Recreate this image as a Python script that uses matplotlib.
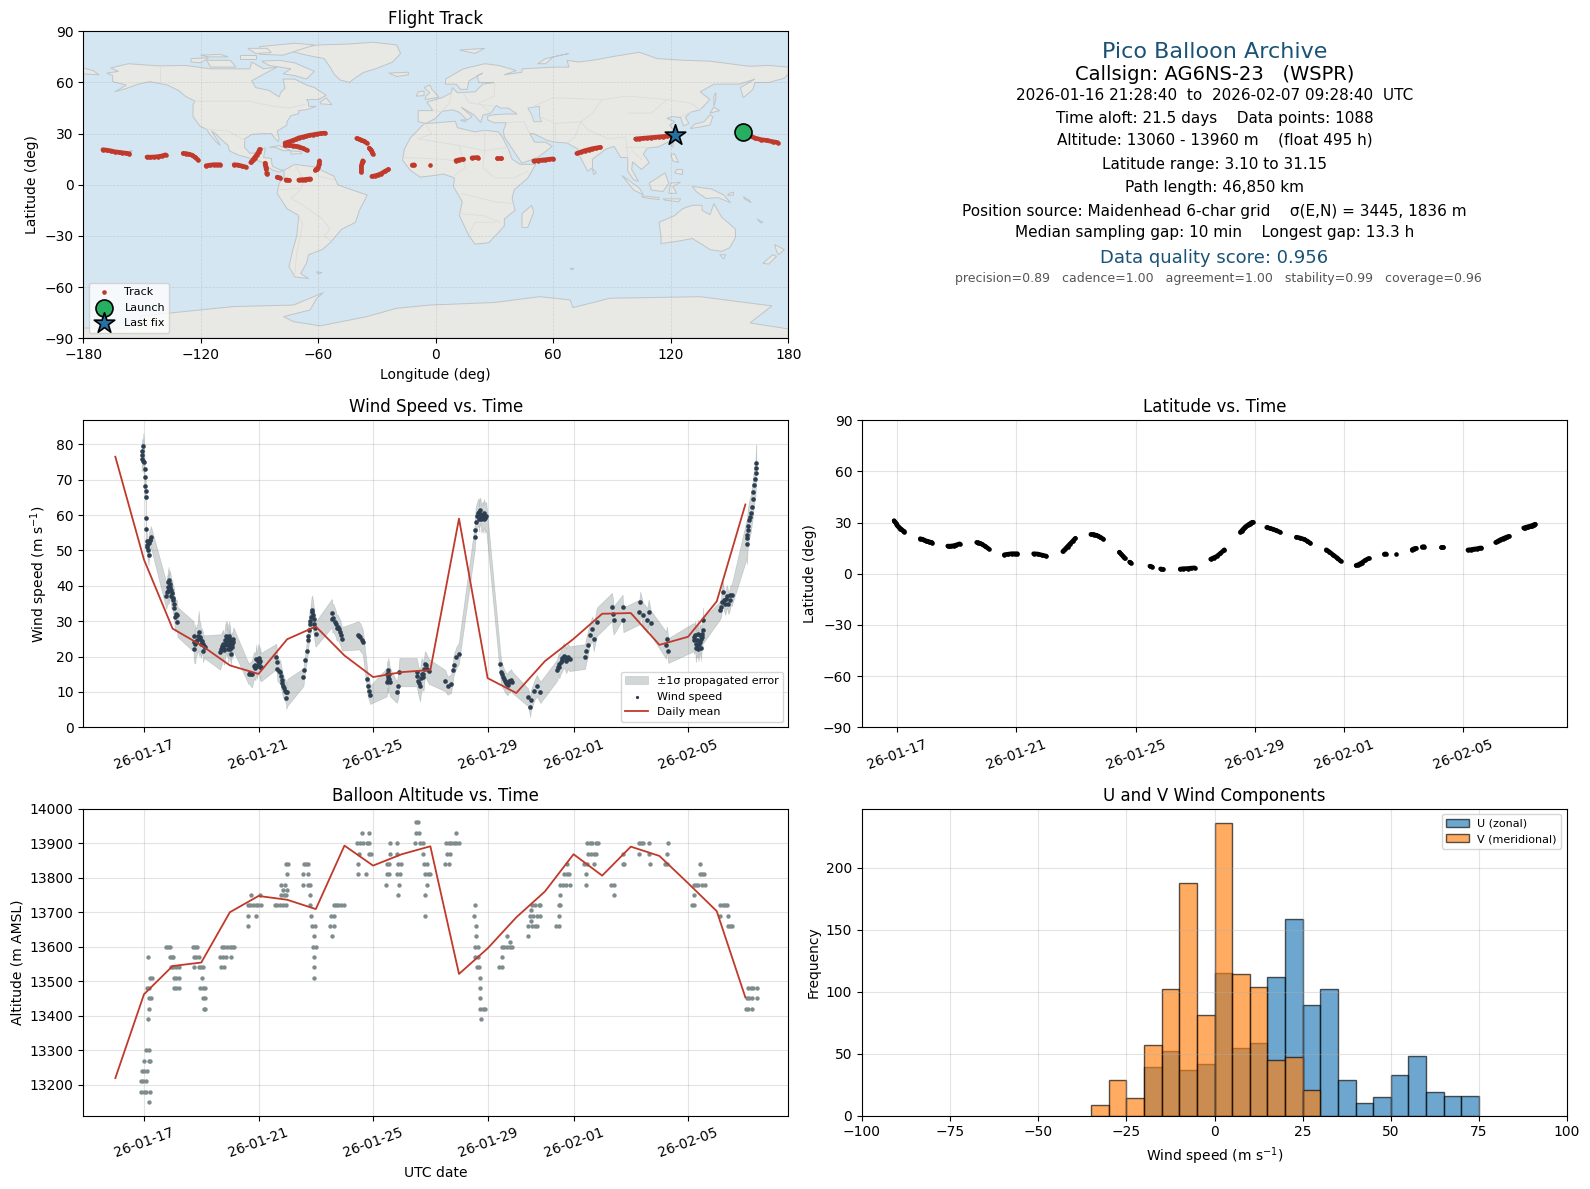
import datetime as dt
import numpy as np
import matplotlib
matplotlib.use("Agg")
import matplotlib.pyplot as plt
import matplotlib.dates as mdates

#------------------------------------------------------------------------------
# DATA - times are days of January 2026 (32 = Feb 1)
#------------------------------------------------------------------------------
date_ticks = ["2026-01-17", "2026-01-21", "2026-01-25", "2026-01-29", "2026-02-01", "2026-02-05"]

track_time = [16.90, 16.95, 17.00, 17.05, 17.10, 17.15, 17.20, 17.25,
    17.78, 17.84, 17.90, 17.96, 18.02, 18.08, 18.13, 18.18,
    18.70, 18.75, 18.82, 18.90, 18.98, 19.10,
    19.67, 19.72, 19.78, 19.84, 19.95, 20.07,
    20.60, 20.72, 20.85, 20.95, 21.04,
    21.58, 21.72, 21.86, 22.00,
    22.56, 22.64, 22.72, 22.80, 22.90, 22.98,
    23.50, 23.56, 23.62, 23.68, 23.74, 23.82, 23.92,
    24.46, 24.52, 24.58, 24.64, 24.80, 24.84,
    25.48, 25.56, 25.84, 25.92,
    26.50, 26.60, 26.75, 26.85, 26.98,
    27.52, 27.62, 27.72, 27.85, 27.98,
    28.52, 28.56, 28.60, 28.64, 28.68, 28.72, 28.76, 28.80, 28.84, 28.87, 28.90, 28.93,
    29.40, 29.50, 29.60, 29.70, 29.84,
    30.40, 30.52, 30.66, 30.76, 30.86,
    31.40, 31.50, 31.62, 31.75, 31.88,
    32.40, 32.46, 32.52, 32.60, 32.70, 32.82,
    33.35, 33.40, 33.73,
    34.28, 34.34, 34.40,
    34.62, 34.68,
    35.25, 35.33,
    36.15, 36.25, 36.35, 36.45, 36.52, 36.60,
    37.08, 37.16, 37.24, 37.32, 37.40, 37.46, 37.52,
    38.02, 38.06, 38.10, 38.14, 38.18, 38.22, 38.26, 38.30, 38.34, 38.38, 38.40]
track_lon = [157, 159, 161, 163, 166, 169, 172, 174.5,
    -170, -168, -166, -164, -162, -160, -158, -156.5,
    -147.5, -146, -144, -142, -140, -138,
    -129, -127.5, -126, -124.5, -123, -121.5,
    -117.3, -115.5, -113.5, -111.5, -110,
    -103, -101, -99, -97,
    -94.5, -93.5, -92.5, -91.5, -90.5, -90,
    -77, -75, -73, -71.5, -70, -68, -66,
    -87.2, -87, -86.8, -86.6, -86.4, -86.3,
    -81, -79.5, -76.5, -75,
    -70, -68.5, -67, -65.5, -64,
    -61.5, -60.8, -60, -59.6, -59.4,
    -77, -75, -73, -71.5, -70, -68, -66.5, -64.5, -62.5, -60.5, -58.5, -56.6,
    -40.4, -39, -38, -36.5, -35.3,
    -34, -33.5, -33, -32.6, -32.2,
    -37.3, -37.6, -38, -38, -38,
    -32.7, -31, -29.5, -27.8, -26, -24.2,
    -12, -11, -3,
    10.3, 12, 14,
    18.5, 21.5,
    31, 33.5,
    50, 52, 54, 56, 58, 60,
    72, 74, 76, 78, 80, 82, 84,
    102, 104, 106, 108, 110, 112, 114, 116, 118, 120, 122]
track_lat = [31.2, 30, 28.4, 27.4, 26.5, 26, 25.3, 24.8,
    20.6, 20.3, 19.9, 19.4, 19.1, 18.8, 18.5, 18.3,
    16.3, 16.2, 16.3, 16.5, 16.9, 17.6,
    18.4, 18.3, 17.9, 17.4, 16.2, 14.7,
    11.2, 11.5, 11.8, 11.8, 11.8,
    11.8, 11.6, 11.0, 10.4,
    13.1, 14.5, 16, 17.5, 19.3, 20.8,
    23.1, 23.1, 22.9, 22.6, 22.3, 21.4, 20.4,
    12.7, 11.5, 10.3, 9.0, 6.9, 6.3,
    4.5, 4.1, 2.9, 2.6,
    2.8, 3, 3.1, 3.3, 3.5,
    8.6, 9.4, 10.2, 12, 14.1,
    24.5, 25.2, 26, 26.7, 27.5, 28, 28.5, 29, 29.4, 29.8, 30.1, 30.3,
    27.2, 26.7, 26.2, 25.5, 24.5,
    21.5, 21, 20.2, 19.2, 18,
    14.1, 12.9, 11.2, 9.5, 7.5,
    4.9, 5.3, 5.8, 6.6, 7.9, 9,
    11.6, 11.7, 11.8,
    14.2, 14.7, 15.0,
    15.8, 16,
    15.9, 15.9,
    14, 14.2, 14.5, 14.7, 15, 15.2,
    18.4, 19.2, 20, 20.6, 21.2, 21.6, 22,
    26.9, 27.1, 27.3, 27.5, 27.7, 27.9, 28.1, 28.3, 28.6, 28.9, 29.1]

wind_time = [16.98, 16.94, 16.93, 16.92, 16.95, 17.01, 17.02, 17.02, 17.02, 17.06, 17.06, 17.06, 17.06, 17.09, 17.10, 17.14, 17.16, 17.20, 17.24,
    17.86, 17.90, 17.83, 17.94, 17.80, 17.99, 17.78, 18.03, 18.06, 18.15, 18.09, 18.17,
    18.73, 18.76, 18.79, 18.85, 18.91, 18.97, 18.99, 19.06, 19.06, 19.14,
    19.66, 19.72, 19.76, 19.80, 19.84, 19.90, 19.92, 19.95, 19.99, 20.01, 20.07, 20.10, 20.03,
    20.65, 20.77, 20.83, 20.94, 20.92, 21.06, 21.08,
    21.62, 21.64, 21.66, 21.76, 21.81, 21.85, 21.93, 22.01, 21.97,
    22.57, 22.59, 22.64, 22.69, 22.73, 22.76, 22.78, 22.83, 22.87, 22.90, 22.94, 22.99,
    23.56, 23.58, 23.67, 23.76, 23.85, 23.91,
    24.49, 24.55, 24.64,
    24.79, 24.81, 24.87, 24.90,
    25.53, 25.53, 25.48, 25.59,
    25.92, 25.88, 25.83,
    26.52, 26.58, 26.64, 26.70, 26.76, 26.81, 26.90,
    27.52, 27.60, 27.72,
    27.79, 27.81, 27.91, 27.99,
    28.55, 28.56, 28.58, 28.69, 28.74, 28.80, 28.86, 28.92,
    29.44, 29.47, 29.56, 29.67, 29.79, 29.85,
    30.41, 30.51, 30.49,
    30.63, 30.72, 30.84,
    31.42, 31.48, 31.65, 31.77, 31.86,
    32.40, 32.44, 32.49,
    32.56, 32.70, 32.66, 32.81,
    33.34, 33.37, 33.40,
    33.71, 33.74,
    34.33, 34.30, 34.42,
    34.62, 34.58, 34.70,
    35.26, 35.23, 35.31,
    36.19, 36.28, 36.30, 36.36, 36.40, 36.44, 36.53, 36.53,
    37.12, 37.17, 37.21, 37.33, 37.41, 37.52,
    38.05, 38.05, 38.08, 38.13, 38.19, 38.22, 38.26, 38.28, 38.31, 38.35, 38.36, 38.37, 38.38,
    # more fixes inside the dense clusters
    17.12, 17.18, 17.22,
    17.84, 17.88, 17.85, 17.92, 17.96, 18.00, 18.05, 18.12,
    18.74, 18.81, 18.88, 18.94, 19.02, 19.10,
    19.70, 19.74, 19.78, 19.82, 19.86, 19.88, 19.93, 19.97, 20.00, 20.04, 20.09, 20.12, 19.94, 19.98,
    20.69, 20.73, 20.86, 20.89, 20.97, 21.00, 21.03, 21.05,
    21.70, 21.78, 21.83, 21.89, 21.96,
    22.74, 22.81, 22.85, 22.92, 22.96,
    23.61, 23.70, 23.73, 23.80, 23.88,
    24.52, 24.60,
    25.50, 25.55, 25.51, 25.57,
    26.55, 26.61, 26.67, 26.73, 26.79, 26.85, 26.95,
    28.62, 28.66, 28.71, 28.77, 28.78, 28.83, 28.89, 28.95, 28.71, 28.86,
    29.50, 29.53, 29.60, 29.63, 29.70, 29.73, 29.76, 29.82,
    31.45, 31.50, 31.55, 31.58, 31.61, 31.70, 31.74, 31.80,
    36.22, 36.25, 36.33, 36.34, 36.38, 36.42, 36.47, 36.50, 36.27, 36.45,
    37.15, 37.25, 37.30, 37.36, 37.45, 37.48,
    38.07, 38.10, 38.16]
wind_speed = [79.6, 78.0, 77.0, 75.8, 75.4, 75.0, 73.0, 70.9, 68.1, 66.8, 65.2, 59.1, 56.2, 52.6, 51.5, 50.1, 48.7, 52.9, 53.9,
    41.6, 40.6, 39.7, 38.8, 38.3, 38.0, 37.2, 35.9, 33.8, 31.7, 31.2, 29.8,
    25.7, 22.2, 23.6, 24.6, 26.9, 25.5, 23.6, 23.6, 21.6, 22.7,
    21.3, 22.5, 23.6, 22.2, 24.6, 25.5, 23.2, 24.6, 22.2, 25.0, 23.6, 24.1, 20.8,
    15.1, 15.1, 17.2, 17.2, 19.4, 18.7, 17.0,
    20.0, 18.4, 16.5, 15.6, 13.4, 11.8, 10.4, 9.9, 8.3,
    14.2, 16.1, 18.9, 21.7, 24.6, 27.4, 29.3, 31.2, 33.1, 31.7, 29.3, 26.3,
    32.3, 30.7, 29.8, 28.4, 26.9, 25.0,
    26.0, 25.5, 24.1,
    13.7, 11.8, 10.4, 9.2,
    16.1, 14.2, 12.8, 12.8,
    15.6, 11.8, 9.9,
    15.6, 13.2, 11.8, 15.1, 14.2, 18.0, 16.5,
    13.2, 11.8, 12.3,
    16.1, 17.5, 19.8, 20.8,
    53.7, 55.8, 58.1, 61.0, 61.4, 59.5, 60.5, 59.1,
    17.8, 15.6, 13.7, 12.3, 13.2, 12.8,
    8.5, 7.6, 5.7,
    10.4, 11.8, 9.9,
    16.1, 18.0, 20.3, 19.4, 19.4,
    20.0, 21.7, 23.2,
    26.2, 25.0, 27.9, 29.8,
    34.0, 32.1, 30.2,
    34.0, 30.4,
    35.4, 32.6, 31.7,
    32.6, 30.2, 29.5,
    25.0, 23.2, 21.7,
    25.5, 23.6, 24.6, 22.2, 26.0, 25.0, 27.4, 30.2,
    33.1, 35.4, 38.3, 36.4, 35.0, 37.3,
    51.7, 53.4, 55.8, 58.6, 60.5, 62.4, 64.5, 66.4, 68.5, 70.1, 71.8, 73.3, 74.7,
    # more fixes inside the dense clusters
    51.0, 52.2, 53.0,
    41.0, 39.0, 38.5, 39.8, 37.2, 36.5, 34.8, 32.0,
    24.0, 24.0, 25.8, 25.0, 24.5, 22.9,
    22.0, 23.0, 21.9, 23.4, 25.8, 23.8, 25.2, 23.2, 24.0, 23.0, 22.6, 25.0, 22.0, 25.9,
    15.3, 15.0, 17.6, 16.9, 18.8, 19.6, 18.3, 17.0,
    16.0, 14.5, 12.5, 11.0, 10.0,
    25.8, 30.0, 32.5, 30.5, 28.0,
    31.0, 29.2, 28.0, 27.7, 26.0,
    25.8, 24.8,
    15.0, 15.0, 13.5, 13.7,
    14.5, 12.5, 14.0, 15.0, 16.5, 17.5, 15.8,
    59.8, 60.5, 60.2, 60.0, 58.8, 59.9, 60.0, 59.7, 59.0, 58.8,
    15.0, 14.3, 13.0, 12.6, 12.0, 13.0, 12.7, 13.5,
    17.0, 17.0, 18.5, 19.0, 19.5, 20.0, 18.8, 20.0,
    24.8, 26.0, 23.4, 26.5, 23.5, 24.0, 25.6, 26.3, 22.5, 22.5,
    34.0, 36.0, 35.0, 37.0, 36.0, 37.3,
    54.5, 57.0, 59.5]
wind_sigma = [3.6, 3.5, 3.4, 3.3, 3.3, 3.2, 3.2, 3.0, 3.0, 2.9, 2.9, 2.7, 2.6, 2.8, 3.0, 3.0, 3.0, 3.0, 3.0,
    3.8, 3.8, 3.9, 3.8, 3.9, 3.8, 3.8, 4.0, 4.0, 4.2, 4.2, 4.2,
    4.3, 4.0, 5.5, 4.0, 6.0, 4.0, 4.0, 3.3, 3.3, 3.3,
    5.0, 4.5, 4.0, 4.5, 4.5, 4.5, 3.5, 4.0, 3.5, 4.0, 3.3, 3.3, 3.3,
    2.9, 3.8, 3.8, 3.5, 4.0, 4.0, 4.0,
    3.6, 3.5, 3.3, 3.3, 3.2, 3.2, 3.1, 3.8, 3.1,
    2.5, 2.5, 2.5, 2.8, 3.0, 3.5, 3.8, 4.0, 4.2, 4.2, 4.0, 3.5,
    4.0, 4.0, 3.8, 3.5, 3.5, 3.3,
    4.0, 4.0, 3.5,
    3.2, 3.0, 3.0, 2.6,
    3.5, 4.0, 4.0, 4.0,
    4.0, 3.5, 3.0,
    4.0, 4.0, 4.5, 4.5, 4.0, 3.5, 3.5,
    3.0, 2.6, 2.6,
    2.6, 2.8, 3.0, 3.0,
    3.5, 3.6, 3.8, 3.8, 3.6, 3.9, 4.0, 4.0,
    3.5, 3.5, 3.0, 3.0, 3.0, 3.0,
    2.5, 2.8, 2.8,
    2.8, 3.0, 3.0,
    3.0, 3.0, 3.5, 3.5, 3.5,
    3.5, 3.5, 3.5,
    3.0, 3.5, 3.5, 4.0,
    4.0, 4.5, 4.0,
    3.5, 3.5,
    3.0, 3.5, 3.5,
    3.5, 3.5, 3.5,
    3.5, 3.8, 3.5,
    4.0, 4.2, 4.2, 3.5, 4.0, 4.0, 3.5, 3.5,
    2.5, 3.0, 3.0, 3.3, 3.0, 3.0,
    5.5, 5.5, 5.5, 5.3, 5.3, 5.2, 5.2, 5.2, 5.2, 5.2, 5.2, 5.2, 5.2,
    # more fixes inside the dense clusters
    3.0, 3.0, 3.0,
    3.8, 3.9, 3.8, 3.8, 3.8, 3.9, 4.0, 4.2,
    4.5, 4.0, 4.0, 5.0, 3.5, 3.3,
    4.5, 4.2, 4.0, 4.5, 4.2, 3.8, 4.0, 3.6, 3.8, 3.5, 3.3, 3.3, 3.6, 4.0,
    3.0, 3.4, 3.8, 3.6, 3.8, 4.0, 4.0, 3.8,
    3.3, 3.2, 3.2, 3.1, 3.2,
    3.2, 3.8, 4.2, 4.0, 3.8,
    3.9, 3.7, 3.6, 3.5, 3.4,
    3.8, 3.7,
    3.8, 3.8, 4.0, 4.0,
    4.0, 4.2, 4.5, 4.2, 3.8, 3.5, 3.5,
    3.7, 3.8, 3.8, 3.7, 3.8, 3.9, 4.0, 4.0, 3.6, 3.9,
    3.3, 3.2, 3.0, 3.0, 3.0, 3.0, 3.0, 3.0,
    3.0, 3.2, 3.4, 3.5, 3.5, 3.5, 3.5, 3.5,
    4.1, 4.1, 3.8, 3.9, 3.8, 4.0, 3.8, 3.7, 4.0, 3.8,
    2.8, 3.0, 3.2, 3.2, 3.0, 3.0,
    5.5, 5.4, 5.3]

daily_time = list(range(16, 39))
daily_wind = [76.5, 47.4, 27.9, 23.2, 17.5, 15.1, 24.9, 28.5, 20.3, 14.2, 15.6, 16.2,
    59.0, 13.9, 9.7, 18.7, 25.0, 32.1, 32.3, 23.3, 25.6, 35.6, 63.0]
daily_alt = [13219, 13462, 13544, 13554, 13700, 13747, 13736, 13709, 13893, 13835, 13868, 13891,
    13521, 13595, 13685, 13760, 13868, 13806, 13890, 13863, 13784, 13703, 13453]

alt_time = [17.16, 16.91, 16.99, 17.07, 17.20, 16.91, 16.98, 17.06, 16.93, 17.01, 17.10, 16.99, 17.16, 17.20, 17.08, 17.17,
    17.13, 17.16, 17.17, 17.24, 17.10, 17.17, 17.22, 17.28, 17.13,
    17.78, 17.83, 17.90, 17.90, 17.98, 18.03, 17.94, 18.03, 18.13, 18.21, 18.06, 18.13, 18.21, 18.06, 18.13, 18.21,
    18.71, 18.79, 18.85, 18.73, 18.83, 18.91, 18.73, 18.91, 18.99, 19.06, 19.01, 18.97, 19.06, 19.14, 19.06, 19.14, 19.08, 19.14,
    19.72, 19.80, 19.90, 19.99, 20.07, 20.13, 19.66, 19.76, 19.85, 20.05, 19.69, 19.80,
    20.74, 21.06, 20.63, 20.71, 20.80, 20.90, 20.98, 21.07, 20.62, 20.92, 20.62,
    21.97, 22.03, 21.98, 21.80, 21.94, 21.87, 21.99, 21.79, 21.90, 21.95, 21.58, 21.66, 21.76, 21.85, 21.95,
    22.59, 22.66, 22.73, 22.57, 22.72, 22.55, 22.72, 22.78, 22.80, 22.80, 22.84, 22.87, 22.98, 22.92, 22.90, 22.99, 22.94, 22.94, 22.95,
    23.62, 23.71, 23.79, 23.88, 23.97, 23.53, 23.62, 23.50, 23.62, 23.55,
    24.63, 24.86, 24.45, 24.55, 24.64, 24.78, 24.87, 24.50, 24.87, 24.93, 24.49, 24.49, 24.76,
    25.60, 25.83, 25.60, 25.85, 25.48, 25.57, 25.88, 25.97, 25.50, 25.57, 25.83, 25.94, 25.45, 25.92, 25.88,
    26.50, 26.58, 26.50, 26.62, 26.48, 26.64, 26.76, 26.73, 26.78, 26.87, 26.83, 26.91, 26.99, 26.90, 26.81, 26.83,
    27.91, 27.56, 27.64, 27.72, 27.81, 27.91, 27.99, 27.58, 27.67, 27.52, 27.64,
    28.55, 28.52, 28.58, 28.58, 28.57, 28.66, 28.57, 28.66, 28.63, 28.70, 28.72, 28.73, 28.73, 28.74, 28.84, 28.92, 28.77,
    29.66, 29.77, 29.49, 29.58, 29.67, 29.77, 29.86, 29.50, 29.41, 29.49,
    30.40, 30.42, 30.55, 30.66, 30.74, 30.52, 30.49, 30.60, 30.72, 30.84, 30.51, 30.55, 30.66, 30.78, 30.84,
    31.40, 31.48, 31.48, 31.48, 31.53, 31.52, 31.53, 31.63, 31.74, 31.86, 31.67, 31.77, 31.83, 31.77,
    32.42, 32.42, 32.37, 32.47, 32.47, 32.56, 32.64, 32.78, 32.85, 32.49, 32.62, 32.70, 32.79, 32.73,
    33.31, 33.40, 33.40,
    33.72, 33.72, 33.77, 34.27, 34.35, 34.42, 34.27,
    34.62, 34.65, 34.67,
    35.31, 35.28, 35.20, 35.28,
    36.42, 36.40, 36.48, 36.57, 36.19, 36.27, 36.36, 36.48, 36.59, 36.22, 36.13, 36.21,
    37.12, 37.21, 37.29, 37.37, 37.12, 37.41, 37.38, 37.47, 37.52,
    38.10, 38.20, 38.28, 38.40, 38.05, 38.14, 38.22, 38.40, 38.02, 38.10, 38.22]
alt_value = [13150, 13180, 13180, 13180, 13180, 13210, 13210, 13210, 13240, 13240, 13240, 13270, 13270, 13270, 13300, 13300,
    13390, 13420, 13450, 13450, 13480, 13480, 13510, 13510, 13570,
    13600, 13600, 13600, 13570, 13570, 13570, 13540, 13540, 13540, 13540, 13510, 13510, 13510, 13480, 13480, 13480,
    13600, 13600, 13600, 13570, 13570, 13570, 13540, 13540, 13540, 13540, 13510, 13480, 13480, 13480, 13450, 13450, 13420, 13420,
    13600, 13600, 13600, 13600, 13600, 13600, 13570, 13570, 13570, 13570, 13540, 13540,
    13750, 13750, 13720, 13720, 13720, 13720, 13720, 13720, 13690, 13690, 13660,
    13840, 13840, 13810, 13780, 13780, 13765, 13765, 13750, 13750, 13750, 13720, 13720, 13720, 13720, 13720,
    13840, 13840, 13840, 13810, 13810, 13780, 13780, 13780, 13750, 13720, 13690, 13660, 13660, 13630, 13600, 13600, 13570, 13540, 13510,
    13720, 13720, 13720, 13720, 13720, 13690, 13690, 13660, 13660, 13630,
    13930, 13930, 13900, 13900, 13900, 13900, 13900, 13870, 13870, 13870, 13840, 13810, 13810,
    13900, 13900, 13870, 13870, 13840, 13840, 13840, 13840, 13810, 13810, 13810, 13810, 13780, 13780, 13750,
    13960, 13960, 13930, 13930, 13900, 13900, 13900, 13870, 13840, 13840, 13810, 13810, 13810, 13780, 13750, 13690,
    13930, 13900, 13900, 13900, 13900, 13900, 13900, 13870, 13870, 13840, 13840,
    13720, 13690, 13660, 13630, 13600, 13600, 13570, 13570, 13540, 13540, 13510, 13480, 13450, 13420, 13420, 13420, 13390,
    13630, 13615, 13600, 13600, 13600, 13600, 13600, 13570, 13540, 13540,
    13630, 13660, 13660, 13660, 13660, 13675, 13690, 13690, 13690, 13690, 13705, 13720, 13720, 13720, 13720,
    13660, 13660, 13690, 13720, 13720, 13750, 13780, 13780, 13780, 13780, 13810, 13810, 13810, 13840,
    13780, 13810, 13840, 13840, 13900, 13900, 13900, 13900, 13900, 13870, 13870, 13870, 13870, 13840,
    13780, 13780, 13750,
    13870, 13840, 13840, 13900, 13900, 13900, 13870,
    13900, 13870, 13840,
    13900, 13870, 13840, 13840,
    13840, 13810, 13810, 13810, 13780, 13780, 13780, 13780, 13780, 13750, 13720, 13720,
    13720, 13720, 13720, 13720, 13690, 13690, 13660, 13660, 13660,
    13480, 13480, 13480, 13480, 13450, 13450, 13450, 13450, 13420, 13420, 13420]

hist_edges_u = [-20, -15, -10, -5, 0, 5, 10, 15, 20, 25, 30, 35, 40, 45, 50, 55, 60, 65, 70]
hist_counts_u = [39, 52, 37, 42, 115, 55, 59, 112, 159, 89, 102, 29, 10, 15, 33, 48, 19, 16, 16]
hist_edges_v = [-35, -30, -25, -20, -15, -10, -5, 0, 5, 10, 15, 20, 25]
hist_counts_v = [9, 29, 14, 57, 102, 188, 81, 236, 114, 104, 45, 47, 21]

# coarse coastlines, (lon, lat)
north_america = [(-168,65.5),(-162,66.5),(-166,68.5),(-157,71),(-141,69.7),(-128,70),(-115,68),(-108,68),(-95,68),(-94,72),(-88,68),(-81,69),(-86,66),(-94,61),(-92,57),(-85,55.3),(-82,53),(-80,51.5),(-79,54.5),(-77,56.5),(-78,62),(-72,62),(-66,58.5),(-62,57),(-56,52.5),(-60,50),(-66,50),(-65,48.5),(-65,46),(-61,46),(-66,44),(-70,43.5),(-70,41.7),(-74,40.5),(-76,37),(-76,35),(-81,31.5),(-80,27),(-80.5,25.2),(-82,27),(-84,30),(-89,30),(-94,29.5),(-97.5,27),(-97.7,22),(-95,18.5),(-91,18.7),(-90.5,21),(-87,21.5),(-88,16),(-84,15.5),(-83.5,11),(-80,9),(-77.5,8.5),(-80,7.5),(-83,8.5),(-86,10.5),(-88,13),(-92,14.5),(-96,16),(-101,17.5),(-105.5,20),(-106,23),(-109,26),(-112.5,30),(-114.5,31.5),(-112,27),(-110,23),(-112,25),(-115,29),(-117,32.5),(-120.5,34.5),(-124,40),(-124,47),(-123,49),(-128,52),(-131,55),(-137,58.5),(-146,60.5),(-152,59),(-158,56.5),(-164,54.5),(-158,58.5),(-165,60.5),(-165,64)]
south_america = [(-77.5,8.5),(-72,12),(-62,10.5),(-52,5),(-50,0),(-44,-2.5),(-35,-6),(-39,-15),(-41,-22),(-48,-26),(-54,-34),(-58,-38),(-65,-41),(-66,-46),(-69,-52),(-65,-55),(-72,-54),(-75,-48),(-73,-38),(-71,-30),(-70,-18),(-76,-14),(-81,-5),(-80,1),(-77.5,4)]
africa = [(-6,35.8),(10,37.3),(11,33.5),(20,31),(25,32),(32,31),(34,28),(37,21),(39,15),(43,12),(51,12),(47,4),(40,-3),(39,-8),(40.5,-15),(35,-20),(35,-24),(32,-28),(27,-34),(20,-34.8),(17,-30),(12,-18),(13.5,-10),(9,-1),(9.5,4),(4,6.3),(-4,5),(-8,4.5),(-13,8.5),(-17,14.5),(-16,21),(-13,27.5),(-10,31)]
eurasia = [(-9,37),(-9,43.5),(-1.5,43.5),(-4.5,48.5),(3,51),(8,54),(8.5,57),(11,54),(20,54.5),(24,59),(30,60),(22,60),(21,64),(24,65.5),(17,61),(16,56),(12.5,56),(10.5,59),(5,59),(5,62),(14,68),(25,71),(32,70),(41,67),(35,64.5),(44,66),(44,68),(60,69),(68,69),(67,73),(73,72),(80,73),(92,75.5),(104,77.7),(113,74),(127,73),(140,72.5),(160,69.5),(170,70),(180,69),(180,65),(178,62.5),(170,60),(163,60),(162,56),(157,51),(155.5,57),(163,62),(155,59),(142,59),(135,54.5),(140,50),(135,44),(130,42.5),(127.5,39.5),(129.3,36),(126.5,34.5),(125,39.5),(121,40),(118,39),(122,37),(119.5,35),(122,31),(120,26),(114,22.3),(108,21.5),(106,18),(109,13),(105,9),(100.5,13.5),(100,9),(103.5,2),(101,3),(98,8),(98,16),(94.5,16),(91,22.5),(87,21),(80,15),(80,10),(77.5,8),(73,18),(72.5,21),(67,24.5),(61,25),(57,26),(50,30),(48,30),(50.5,25),(56,25),(59.5,22.5),(52,16),(44,12.7),(42,16),(35,28),(34.5,31.5),(36,36.5),(30,36.3),(26.5,38),(26.5,40.3),(29,41),(36,41.5),(41.5,41.5),(37,45),(33,45),(31,46.5),(28,42),(24,40.8),(23,36.5),(19.5,41),(13,45.5),(18.5,40),(16,38),(12,42.5),(8.5,44),(3,43),(0,39),(-5,36)]
australia = [(114,-22),(122,-18),(126,-14),(131,-12),(136,-12),(136,-15),(140,-17.5),(142,-11),(146,-19),(153,-26),(153,-31),(150,-37),(146,-39),(140,-38),(136,-35),(131,-31.5),(124,-33),(115,-34.5),(115,-30)]
antarctica = [(-180,-90),(-180,-84),(-155,-84),(-150,-77),(-130,-74.5),(-103.4,-71.4),(-72.7,-70.5),(-57.4,-63.2),(-60.8,-66.5),(-64.2,-73.4),(-77.8,-77.3),(-72.7,-80.2),(-59,-82.7),(-35.3,-77.3),(-20,-72.4),(-3,-70.5),(30,-69),(53,-65.6),(68.6,-67.5),(70,-72),(89,-66.5),(135,-65.6),(171.6,-71),(160.5,-81),(180,-84.5),(180,-90)]
greenland = [(-73,78),(-68,80.5),(-60,82),(-45,82.5),(-32,83.6),(-20,82),(-18,77),(-22,72),(-30,68.3),(-37,65.8),(-42,62),(-44,60),(-49,61.5),(-52,65),(-54,69),(-57,74),(-66,76)]
islands = [
    [(-80,73),(-72,71.5),(-62,66.5),(-66,62),(-72,64),(-78,65),(-74,68),(-85,70),(-89,72.5)],
    [(-117,73),(-105,73),(-102,69),(-115,69)],
    [(-90,76.5),(-78,76),(-62,82),(-72,83),(-90,81)],
    [(-125,74),(-116,74.5),(-120,71.5),(-125,72)],
    [(-100,76),(-92,76),(-92,74),(-100,74)],
    [(-120,76),(-110,76.5),(-106,75),(-116,75)],
    [(-96,80),(-86,80),(-84,77.5),(-92,77)],
    [(-59,47.5),(-53,47),(-56,51),(-59,48.5)],
    [(-85,22),(-80,23),(-74,20),(-78,20),(-82,22)],
    [(-74,19.8),(-69,19.5),(-68.5,18.3),(-74,18)],
    [(-5.5,50),(1.5,51.3),(0,53.5),(-2,56),(-3,58.6),(-6,57),(-3,54),(-5,52)],
    [(-10,52),(-6,52.3),(-6,55),(-9,54.5)],
    [(-24,65.5),(-14,66),(-14,64.5),(-20,63.5)],
    [(12,79),(25,80),(20,77)],
    [(52,71),(56,74),(68,77),(60,75),(56,71)],
    [(130,33),(135.5,34),(140,35),(141.5,40),(140,41),(137,37),(132,35.5)],
    [(140,42),(145,43.5),(142,45.5)],
    [(142,46),(143,50),(143,54),(142,52)],
    [(120,23),(121.5,25),(121,22)],
    [(120,18),(122,18),(124,13),(121,14)],
    [(122,7),(126,6),(126,9),(123,9)],
    [(109,1),(117,7),(119,1),(116,-4),(110,-3)],
    [(95,5.5),(104,-2),(106,-6),(101,-3)],
    [(105,-6.5),(114,-7.5),(114,-8.7),(106,-7.5)],
    [(116,-8.3),(125,-8.2),(124,-10),(117,-9)],
    [(119,-5),(120,1),(125,1.5),(121,-1),(123,-5)],
    [(131,-1),(141,-2.5),(147,-6),(150.5,-10.5),(144,-7.5),(138,-8),(133,-4)],
    [(150,-5),(152,-4.3),(152,-6),(149,-6.2)],
    [(157,-7),(160,-9),(161,-10.5),(158,-8.5)],
    [(164,-20),(167,-22),(166,-22.4)],
    [(145,-41),(148,-41),(147,-43.5)],
    [(173,-35),(178,-38),(175,-41),(174,-39)],
    [(172,-41),(174,-42),(170,-46.5),(167,-46)],
    [(49,-12),(50,-16),(47,-25),(44,-25),(44,-17)],
    [(80,9.5),(82,7),(80.5,6)],
    [(-61,-51),(-58,-51.5),(-60,-52.2)],
    [(68.5,-49),(70.5,-49),(69.5,-50)],
    [(-156,19),(-155,20),(-156,20.2)],
    [(12.5,38),(15.5,38),(15,36.8)],
    [(-180,65),(-172,64.5),(-175,67),(-180,68.5)],
]
caspian = [(47,45),(53,46),(53,40),(54,37),(50,37),(49,41)]
borders = [
    [(-141,69.7),(-141,60)], [(-123,49),(-95,49),(-83,46),(-75,45),(-67,47)], [(-117,32.5),(-106,31.5),(-97.5,26)],
    [(-92,14.5),(-91,18)], [(-72,12),(-67,2),(-70,-4),(-74,-8),(-69,-11),(-58,-20),(-54,-26),(-57,-30),(-53,-33.5)],
    [(-80,-3),(-70,-2)], [(-70,-18),(-68,-23),(-71,-40),(-72,-52)], [(-60,8),(-60,5),(-52,3)],
    [(-9,27),(12,23),(25,20),(37,22)], [(25,32),(25,20),(24,10),(30,4),(40,4),(47,8)], [(-5,35),(-2,30),(-9,27)],
    [(12,23),(15,10),(9,5)], [(-16,16),(4,15),(15,13)], [(13,-5),(30,-10),(40,-11)], [(12,-17),(24,-18),(33,-22)],
    [(17,-29),(20,-22),(30,-22)], [(3,43),(-1.5,43.5)], [(8,54),(7,48),(3,43)], [(14,54),(17,48),(30,46)], [(28,42),(22,48),(30,52),(30,60)],
    [(36,36.5),(45,37),(48,30)], [(61,25),(61,36),(53,40)], [(61,36),(74,37),(78,32),(88,27),(97,28),(98,16)],
    [(67,24.5),(71,28),(74,37)], [(50,46),(60,51),(85,50),(98,52),(118,50),(130,48),(135,44)], [(85,50),(80,42),(74,37)], [(98,42),(110,42),(118,50)],
    [(97,22),(106,22),(108,21.5)], [(100,20),(105,15)], [(130,42.5),(125,40)],
]

text_lines = [
    "Pico Balloon Archive",
    "Callsign: AG6NS-23   (WSPR)",
    "2026-01-16 21:28:40  to  2026-02-07 09:28:40  UTC",
    "Time aloft: 21.5 days    Data points: 1088",
    "Altitude: 13060 - 13960 m    (float 495 h)",
    "Latitude range: 3.10 to 31.15",
    "Path length: 46,850 km",
    "Position source: Maidenhead 6-char grid    \u03c3(E,N) = 3445, 1836 m",
    "Median sampling gap: 10 min    Longest gap: 13.3 h",
    "Data quality score: 0.956",
    "precision=0.89   cadence=1.00   agreement=1.00   stability=0.99   coverage=0.96",
]

#------------------------------------------------------------------------------
# HELPERS
#------------------------------------------------------------------------------
FIG_W = 1590
FIG_H = 1189
RED = "#c0392b"
NAVY = "#1a5276"

def day_to_num(days):
    start = mdates.date2num(dt.datetime(2026, 1, 1))
    return start + np.asarray(days, dtype=float) - 1.0

def px_axes(left, top, width, height):
    return fig.add_axes([left / FIG_W, 1 - (top + height) / FIG_H, width / FIG_W, height / FIG_H])

def style_time_axis(ax):
    ax.set_xticks(mdates.date2num([dt.datetime.strptime(d, "%Y-%m-%d") for d in date_ticks]))
    ax.xaxis.set_major_formatter(mdates.DateFormatter("%y-%m-%d"))
    ax.tick_params(axis="x", rotation=20)
    ax.grid(True, alpha=0.35)
    ax.set_axisbelow(True)

def draw_track(ax, x, y, color):
    # fixes closer than 0.15 day run together into one stroke
    times = np.array(track_time)
    x = np.asarray(x)
    y = np.asarray(y)
    breaks = np.where(np.diff(times) > 0.15)[0] + 1
    for xs, ys in zip(np.split(x, breaks), np.split(y, breaks)):
        ax.plot(xs, ys, color=color, linewidth=3.3, solid_capstyle="round", zorder=3)

fig = plt.figure(figsize=(FIG_W / 100, FIG_H / 100), dpi=100)

#------------------------------------------------------------------------------
# 1. FLIGHT TRACK MAP
#------------------------------------------------------------------------------
ax_map = px_axes(83.3, 31.3, 705, 307)
ax_map.set_facecolor("#d4e6f1")
for poly in [north_america, south_america, africa, eurasia, australia, antarctica, greenland] + islands:
    lons, lats = zip(*poly)
    ax_map.fill(lons, lats, facecolor="#e8e8e4", edgecolor="#bfc5c8", linewidth=0.7, zorder=1)
lons, lats = zip(*caspian)
ax_map.fill(lons, lats, facecolor="#d4e6f1", edgecolor="#bfc5c8", linewidth=0.6, zorder=1.1)
for line in borders:
    lons, lats = zip(*line)
    ax_map.plot(lons, lats, color="#dcdcd8", linewidth=0.6, zorder=1.2)

draw_track(ax_map, track_lon, track_lat, RED)
ax_map.scatter(track_lon, track_lat, s=11, color=RED, linewidths=0, zorder=3, label="Track")
ax_map.scatter(track_lon[0], track_lat[0], s=150, color="#27ae60", edgecolor="black", linewidth=1.2, zorder=4, label="Launch")
ax_map.scatter(track_lon[-1], track_lat[-1], s=240, marker="*", color="#2471a3", edgecolor="black", linewidth=1.2, zorder=5, label="Last fix")
ax_map.set_xlim(-180, 180)
ax_map.set_ylim(-90, 90)
ax_map.set_xticks(np.arange(-180, 181, 60))
ax_map.set_yticks(np.arange(-90, 91, 30))
ax_map.grid(True, color="#888888", linestyle="--", linewidth=0.5, alpha=0.25)
ax_map.set_xlabel("Longitude (deg)")
ax_map.set_ylabel("Latitude (deg)")
ax_map.set_title("Flight Track", fontsize=12, pad=5)
ax_map.legend(loc="lower left", fontsize=8, framealpha=0.8)

#------------------------------------------------------------------------------
# 2. TEXT PANEL
#------------------------------------------------------------------------------
text_y = [51.8, 74.2, 95.5, 118, 140.3, 164.5, 187.8, 211.2, 232.8, 258, 278.5]
for i, line in enumerate(text_lines):
    size, color, center = 11, "black", 1214.5
    if i == 0:
        size, color = 16, NAVY
    elif i == 1:
        size = 14
    elif i == 9:
        size, color = 13, NAVY
    elif i == 10:
        size, color, center = 9, "#555555", 1218.5
    fig.text(center / FIG_W, 1 - text_y[i] / FIG_H, line, ha="center", va="center", fontsize=size, color=color)

#------------------------------------------------------------------------------
# 3. WIND SPEED
#------------------------------------------------------------------------------
ax_wind = px_axes(83.3, 420.3, 705, 307)
order = np.argsort(wind_time)
w_t = day_to_num(wind_time)[order]
w_s = np.array(wind_speed)[order]
w_e = np.array(wind_sigma)[order]
ax_wind.fill_between(w_t, w_s - w_e, w_s + w_e, color="#7f8c8d", alpha=0.35, linewidth=0.5, label="\u00b11\u03c3 propagated error")
ax_wind.scatter(w_t, w_s, s=11, color="#2c3e50", linewidths=0, zorder=3, label="Wind speed")
ax_wind.plot(day_to_num(daily_time), daily_wind, color=RED, linewidth=1.3, zorder=4, label="Daily mean")
style_time_axis(ax_wind)
ax_wind.set_ylim(0, 86.8)
ax_wind.set_yticks(np.arange(0, 81, 10))
ax_wind.set_ylabel("Wind speed (m s$^{-1}$)")
ax_wind.set_title("Wind Speed vs. Time", fontsize=12)
ax_wind.legend(loc="lower right", fontsize=8, markerscale=0.7)

#------------------------------------------------------------------------------
# 4. LATITUDE
#------------------------------------------------------------------------------
ax_lat = px_axes(862, 420.3, 705, 307)
draw_track(ax_lat, day_to_num(track_time), track_lat, "black")
ax_lat.scatter(day_to_num(track_time), track_lat, s=11, color="black", linewidths=0, zorder=3)
style_time_axis(ax_lat)
ax_lat.set_ylim(-90, 90)
ax_lat.set_yticks(np.arange(-90, 91, 30))
ax_lat.set_ylabel("Latitude (deg)")
ax_lat.set_title("Latitude vs. Time", fontsize=12)

#------------------------------------------------------------------------------
# 5. ALTITUDE
#------------------------------------------------------------------------------
ax_alt = px_axes(83.3, 808.7, 705, 307)
ax_alt.scatter(day_to_num(alt_time), alt_value, s=10, color="#7f8c8d", linewidths=0, zorder=3)
ax_alt.plot(day_to_num(daily_time), daily_alt, color=RED, linewidth=1.3, zorder=4)
style_time_axis(ax_alt)
ax_alt.set_xlim(ax_wind.get_xlim())
ax_alt.set_ylim(13110, 14000)
ax_alt.set_yticks(np.arange(13200, 14001, 100))
ax_alt.set_xlabel("UTC date")
ax_alt.set_ylabel("Altitude (m AMSL)")
ax_alt.set_title("Balloon Altitude vs. Time", fontsize=12, pad=5.6)

#------------------------------------------------------------------------------
# 6. U / V HISTOGRAM
#------------------------------------------------------------------------------
ax_hist = px_axes(862, 808.7, 705, 307)
ax_hist.bar(hist_edges_u, hist_counts_u, width=5, align="edge", color="#1f77b4", edgecolor="black", alpha=0.65, label="U (zonal)")
ax_hist.bar(hist_edges_v, hist_counts_v, width=5, align="edge", color="#ff7f0e", edgecolor="black", alpha=0.65, label="V (meridional)")
ax_hist.set_xlim(-100, 100)
ax_hist.set_xticks(np.arange(-100, 101, 25))
ax_hist.set_ylim(0, 247.8)
ax_hist.grid(True, alpha=0.35)
ax_hist.set_xlabel("Wind speed (m s$^{-1}$)")
ax_hist.set_ylabel("Frequency")
ax_hist.set_title("U and V Wind Components", fontsize=12, pad=5.6)
ax_hist.legend(loc="upper right", fontsize=8)

fig.savefig("out.png", dpi=100)
